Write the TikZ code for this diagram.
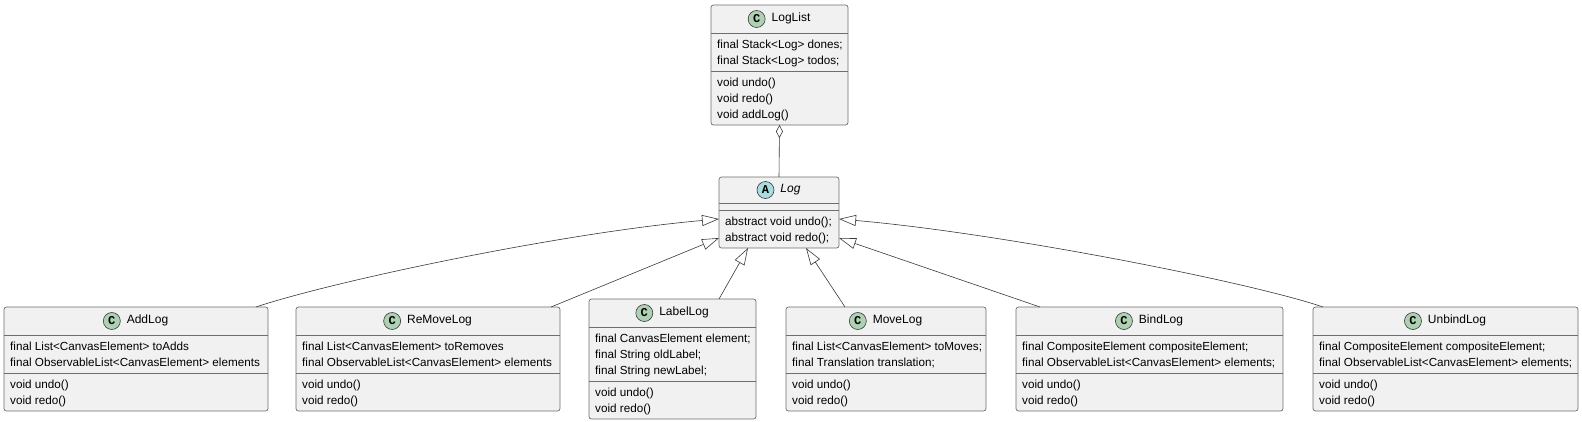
\documentclass[tikz,border=0pt]{standalone}
\usepackage{fontspec}
\setmainfont{Liberation Sans}
\newfontfamily\circfont{Liberation Mono}
\usetikzlibrary{arrows.meta}
\definecolor{boxfill}{HTML}{F1F1F1}
\definecolor{boxline}{HTML}{6E6E6E}
\definecolor{edgeline}{HTML}{383838}
\definecolor{cgreen}{HTML}{ADD1B2}
\definecolor{acyan}{HTML}{A9DCDF}
\tikzset{
  cbox/.style={draw=boxline, fill=boxfill, line width=0.7pt, rounded corners=2.5pt, inner sep=0pt, outer sep=0pt, anchor=north west},
  sepline/.style={draw=boxline, line width=0.6pt},
  member/.style={anchor=base west, inner sep=0pt, font=\fontsize{11.7}{14}\selectfont},
  cname/.style={anchor=mid, inner sep=0pt, font=\fontsize{12}{14}\selectfont},
  cicon/.style={circle, draw=edgeline, line width=0.6pt, minimum size=17pt, inner sep=0pt, anchor=east, font=\circfont\bfseries\fontsize{12}{12}\selectfont},
  ext/.style={draw=edgeline, line width=0.6pt, -{Triangle[open,length=17pt,width=11pt]}},
  agg/.style={draw=edgeline, line width=0.6pt, {Diamond[open,length=13pt,width=7pt]}-},
}
\newcommand\ubox[7]{%
  \node[cbox, minimum width={#4-#2}, minimum height={#5-#3}] (#1) at (#2,#3) {};
  \draw[sepline] (#2,#6) -- (#4,#6);
  \draw[sepline] (#2,#7) -- (#4,#7);
}
\newcommand\uhead[6]{%
  \node[cname] (#1-name) at (#2+11.5,#3) {#6};
  \node[cicon, fill=#5] (#1-icon) at ([xshift=-6pt]#1-name.mid west) {#4};
}
\newcommand\mem[4]{\node[member] (#1) at (#2,#3+4) {#4};}
\begin{document}
\begin{tikzpicture}[x=1pt,y=-1pt]
\useasboundingbox (0,0) rectangle (1582,421);

% LogList
\ubox{LogList}{711}{5}{848}{125}{33}{71}
\uhead{LogList}{779.5}{19}{C}{cgreen}{LogList}
\mem{LogList-f1}{717}{44}{final Stack<Log> dones;}
\mem{LogList-f2}{717}{60}{final Stack<Log> todos;}
\mem{LogList-m1}{717}{82}{void undo()}
\mem{LogList-m2}{717}{98}{void redo()}
\mem{LogList-m3}{717}{114}{void addLog()}

% Log
\ubox{Log}{719}{177}{839}{248}{203}{210}
\uhead{Log}{779}{190}{A}{acyan}{\itshape Log}
\mem{Log-m1}{725}{221}{abstract void undo();}
\mem{Log-m2}{725}{237}{abstract void redo();}

% AddLog
\ubox{AddLog}{4}{307}{268}{411}{335}{373}
\uhead{AddLog}{136}{321}{C}{cgreen}{AddLog}
\mem{AddLog-f1}{10}{346}{final List<CanvasElement> toAdds}
\mem{AddLog-f2}{10}{362}{final ObservableList<CanvasElement> elements}
\mem{AddLog-m1}{10}{384}{void undo()}
\mem{AddLog-m2}{10}{400}{void redo()}

% ReMoveLog
\ubox{ReMoveLog}{296}{307}{560}{411}{335}{373}
\uhead{ReMoveLog}{428}{321}{C}{cgreen}{ReMoveLog}
\mem{ReMoveLog-f1}{302}{346}{final List<CanvasElement> toRemoves}
\mem{ReMoveLog-f2}{302}{362}{final ObservableList<CanvasElement> elements}
\mem{ReMoveLog-m1}{302}{384}{void undo()}
\mem{ReMoveLog-m2}{302}{400}{void redo()}

% LabelLog
\ubox{LabelLog}{589}{299}{756}{419}{327}{381}
\uhead{LabelLog}{672.5}{313}{C}{cgreen}{LabelLog}
\mem{LabelLog-f1}{595}{338}{final CanvasElement element;}
\mem{LabelLog-f2}{595}{354}{final String oldLabel;}
\mem{LabelLog-f3}{595}{370}{final String newLabel;}
\mem{LabelLog-m1}{595}{392}{void undo()}
\mem{LabelLog-m2}{595}{408}{void redo()}

% MoveLog
\ubox{MoveLog}{786}{307}{986}{411}{335}{373}
\uhead{MoveLog}{886}{321}{C}{cgreen}{MoveLog}
\mem{MoveLog-f1}{792}{346}{final List<CanvasElement> toMoves;}
\mem{MoveLog-f2}{792}{362}{final Translation translation;}
\mem{MoveLog-m1}{792}{384}{void undo()}
\mem{MoveLog-m2}{792}{400}{void redo()}

% BindLog
\ubox{BindLog}{1016}{307}{1283}{411}{335}{373}
\uhead{BindLog}{1149.5}{321}{C}{cgreen}{BindLog}
\mem{BindLog-f1}{1022}{346}{final CompositeElement compositeElement;}
\mem{BindLog-f2}{1022}{362}{final ObservableList<CanvasElement> elements;}
\mem{BindLog-m1}{1022}{384}{void undo()}
\mem{BindLog-m2}{1022}{400}{void redo()}

% UnbindLog
\ubox{UnbindLog}{1313}{307}{1578}{411}{335}{373}
\uhead{UnbindLog}{1445.5}{321}{C}{cgreen}{UnbindLog}
\mem{UnbindLog-f1}{1319}{346}{final CompositeElement compositeElement;}
\mem{UnbindLog-f2}{1319}{362}{final ObservableList<CanvasElement> elements;}
\mem{UnbindLog-m1}{1319}{384}{void undo()}
\mem{UnbindLog-m2}{1319}{400}{void redo()}

% connectors
\draw[agg] (LogList.south) -- (Log.north);
\draw[ext] ([xshift=252pt]AddLog.north west) .. controls (330,282) and (560,233) .. ([yshift=-42pt]Log.north west);
\draw[ext] ([xshift=255pt]ReMoveLog.north west) -- ([yshift=-61pt]Log.north west);
\draw[ext] ([xshift=130pt]LabelLog.north west) -- ([xshift=29pt]Log.south west);
\draw[ext] ([xshift=59pt]MoveLog.north west) -- ([xshift=87pt]Log.south west);
\draw[ext] ([xshift=24pt]BindLog.north west) -- ([yshift=-61pt]Log.north east);
\draw[ext] ([xshift=10pt]UnbindLog.north west) .. controls (1250,282) and (1000,233) .. ([yshift=-42pt]Log.north east);
\end{tikzpicture}
\end{document}
